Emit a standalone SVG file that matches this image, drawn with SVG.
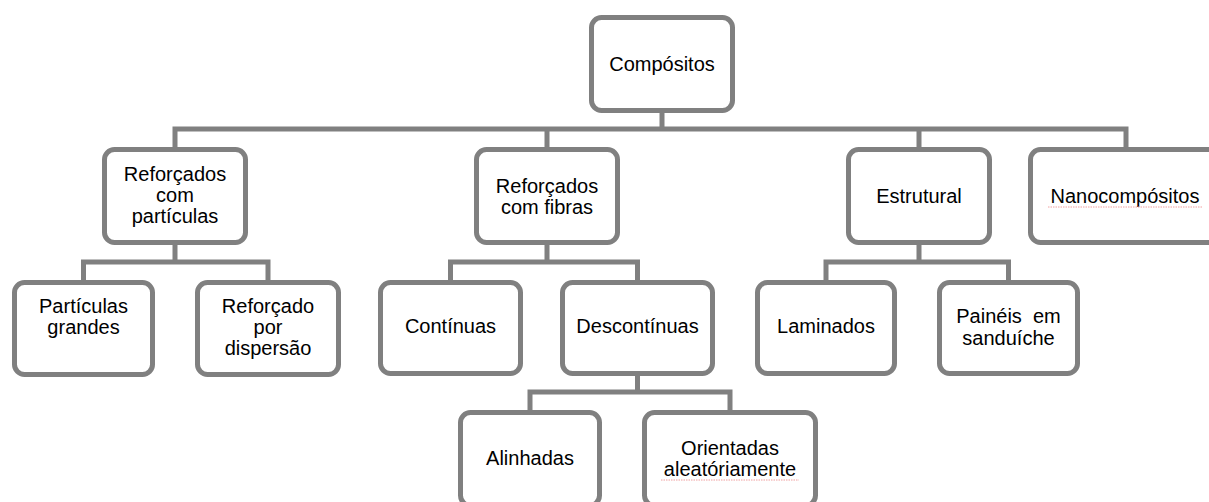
<svg xmlns="http://www.w3.org/2000/svg" width="1209" height="502" viewBox="0 0 1209 502">
<style>
.box{fill:#fff;stroke:#808080;stroke-width:5}
.con{fill:none;stroke:#808080;stroke-width:5;stroke-linejoin:miter;stroke-linecap:butt}
text{font-family:"Liberation Sans",Arial,sans-serif;font-size:20px;fill:#000;text-anchor:middle}
.sq{fill:none;stroke:#f0a0a0;stroke-width:1;stroke-dasharray:1.5 1}
</style>
<rect width="1209" height="502" fill="#fff"/>
<g id="connectors">
<path class="con" d="M662 113V129M175 147V129H1126V147M547 129V147M919 129V147"/>
<path class="con" d="M175 245V262M83.5 280V262H268V280"/>
<path class="con" d="M547 245V262M450.5 280V262H637.5V280"/>
<path class="con" d="M919 245V262M826 280V262H1008.5V280"/>
<path class="con" d="M637.5 376V392M530 410V392H730V410"/>
</g>
<g id="n-compositos"><rect class="box" x="591.5" y="17.5" width="141" height="93" rx="10"/><text x="662" y="71">Compósitos</text></g>
<g id="n-particulas"><rect class="box" x="104.5" y="149.5" width="141" height="93" rx="10"/><text x="175" y="181">Reforçados</text><text x="175" y="202">com</text><text x="175" y="223">partículas</text></g>
<g id="n-fibras"><rect class="box" x="476.5" y="149.5" width="141" height="93" rx="10"/><text x="547" y="193">Reforçados</text><text x="547" y="214">com fibras</text></g>
<g id="n-estrutural"><rect class="box" x="848.5" y="149.5" width="141" height="93" rx="10"/><text x="919" y="203">Estrutural</text></g>
<g id="n-nano"><rect class="box" x="1030.5" y="149.5" width="193" height="93" rx="10"/><text x="1125" y="203">Nanocompósitos</text><path class="sq" d="M1048 207H1202"/></g>
<g id="n-grandes"><rect class="box" x="14.5" y="282.5" width="138" height="92" rx="10"/><text x="83.5" y="313">Partículas</text><text x="83.5" y="334">grandes</text></g>
<g id="n-dispersao"><rect class="box" x="197.5" y="282.5" width="141" height="92" rx="10"/><text x="268" y="313">Reforçado</text><text x="268" y="334">por</text><text x="268" y="355">dispersão</text></g>
<g id="n-continuas"><rect class="box" x="380.5" y="282.5" width="140" height="91" rx="10"/><text x="450.5" y="333">Contínuas</text></g>
<g id="n-descontinuas"><rect class="box" x="562.5" y="282.5" width="150" height="91" rx="10"/><text x="637.5" y="333">Descontínuas</text></g>
<g id="n-laminados"><rect class="box" x="757.5" y="282.5" width="137" height="91" rx="10"/><text x="826" y="333">Laminados</text></g>
<g id="n-paineis"><rect class="box" x="939.5" y="282.5" width="138" height="91" rx="10"/><text x="1008.5" y="323" style="white-space:pre" xml:space="preserve">Painéis  em</text><text x="1008.5" y="345">sanduíche</text></g>
<g id="n-alinhadas"><rect class="box" x="460.5" y="412.5" width="139" height="93" rx="10"/><text x="530" y="465">Alinhadas</text></g>
<g id="n-orientadas"><rect class="box" x="644.5" y="412.5" width="171" height="93" rx="10"/><text x="730" y="455">Orientadas</text><text x="730" y="476">aleatóriamente</text><path class="sq" d="M661 480H799"/></g>
</svg>
